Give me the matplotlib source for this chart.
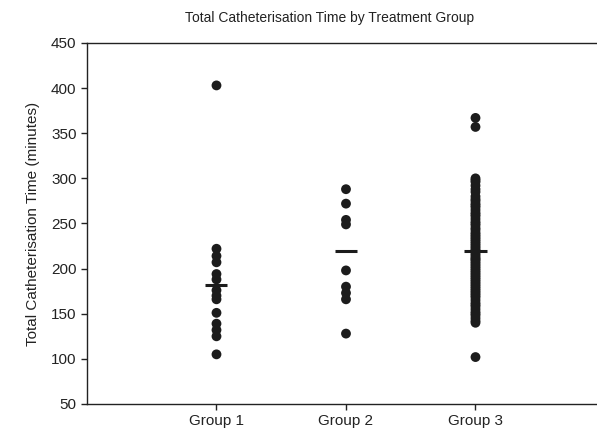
import numpy as np
import matplotlib.pyplot as plt

plt.rcParams["font.family"] = ["Liberation Sans", "DejaVu Sans"]

groups = ["Group 1", "Group 2", "Group 3"]

group1_times = [403, 222, 214, 207, 194, 188, 176, 170, 166, 151, 139, 132, 125, 105]
group2_times = [288, 272, 254, 249, 198, 180, 173, 166, 128]
group3_times = [
    367, 357, 300, 298, 296, 292, 288, 285, 280, 277, 275, 272, 270, 268,
    265, 262, 260, 258, 255, 252, 250, 248, 245, 243, 240, 238, 236, 234,
    232, 230, 228, 226, 224, 222, 220, 219, 217, 215, 213, 211, 210, 208,
    206, 204, 202, 200, 198, 196, 194, 192, 190, 188, 186, 184, 182, 180,
    178, 176, 174, 172, 170, 168, 165, 162, 160, 158, 155, 152, 150, 148,
    145, 142, 140, 102,
]

group_means = [182, 220, 219]

y_ticks = [50, 100, 150, 200, 250, 300, 350, 400, 450]


def main():
    fig = plt.figure(figsize=(5.97, 4.33), dpi=100)
    ax = fig.add_axes([0.1457, 0.067, 0.8677, 0.8337])

    dot_color = "#1c1c1c"
    all_times = [group1_times, group2_times, group3_times]

    for i, times in enumerate(all_times):
        xs = np.full(len(times), i + 1)
        ax.scatter(
            xs,
            times,
            s=50,
            color=dot_color,
            edgecolors="none",
            zorder=3
        )

    positions = np.arange(1, len(groups) + 1)
    ax.hlines(
        group_means,
        positions - 0.085,
        positions + 0.085,
        color=dot_color,
        linewidth=2.2,
        zorder=4
    )

    ax.set_xlim(0, 4)
    ax.set_ylim(50, 450)
    ax.set_xticks(positions)
    ax.set_xticklabels(groups)
    ax.set_yticks(y_ticks)

    ax.spines["right"].set_visible(False)
    for side in ["left", "bottom", "top"]:
        ax.spines[side].set_linewidth(1.0)
        ax.spines[side].set_color("#222222")

    ax.tick_params(
        direction="out",
        length=4.5,
        width=1.0,
        color="#222222",
        labelsize=11,
        labelcolor="#222222",
        pad=3
    )

    ax.set_ylabel(
        "Total Catheterisation Time (minutes)",
        fontsize=11,
        color="#222222",
        labelpad=8
    )

    fig.text(
        330 / 597,
        1 - 18 / 433,
        "Total Catheterisation Time by Treatment Group",
        ha="center",
        va="center",
        fontsize=10,
        color="#222222"
    )

    fig.savefig("out.png", dpi=100)
    plt.close(fig)


if __name__ == "__main__":
    main()
